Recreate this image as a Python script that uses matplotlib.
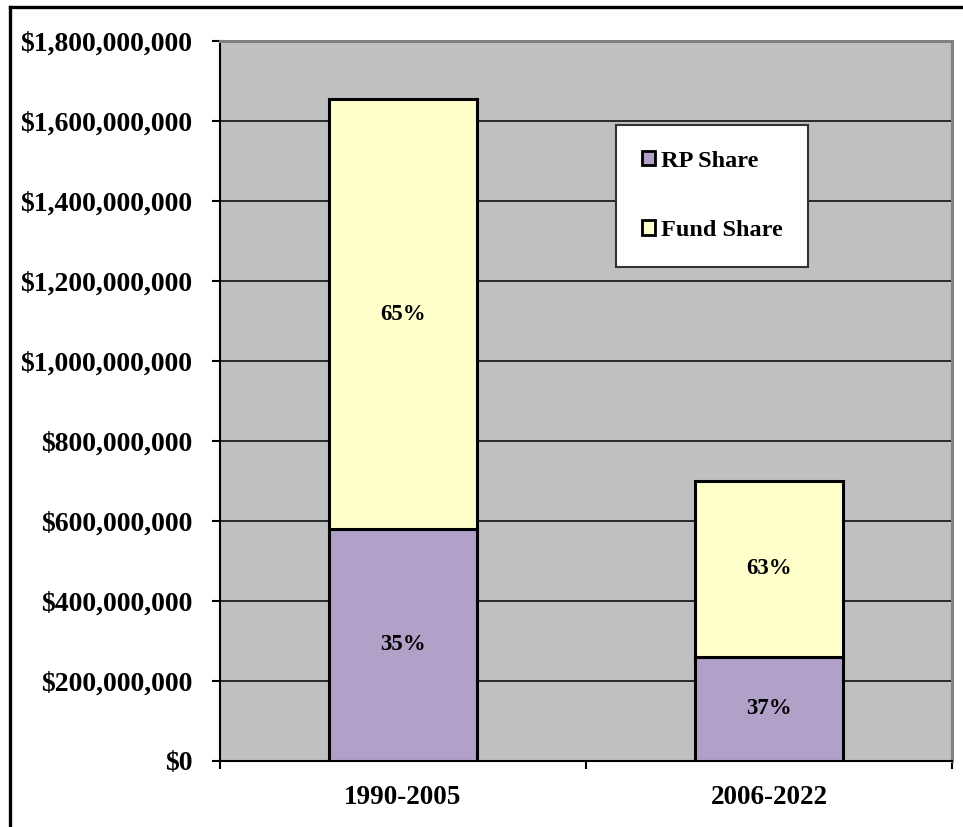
import numpy as np
import matplotlib.pyplot as plt
from matplotlib.lines import Line2D
from matplotlib.ticker import FuncFormatter

# data
periods = ["1990-2005", "2006-2022"]
rp_share = [580e6, 260e6]
fund_share = [1075e6, 440e6]
rp_pct = ["35%", "37%"]
fund_pct = ["65%", "63%"]

plt.rcParams['font.family'] = 'Liberation Serif'
plt.rcParams['font.weight'] = 'bold'

W, H = 963, 827
fig = plt.figure(figsize=(W / 100, H / 100), dpi=100)
ax = fig.add_axes([220 / W, (H - 761) / H, (952 - 220) / W, 720 / H])
ax.set_facecolor('#C0C0C0')

x = np.arange(len(periods))
bw = 0.405
b1 = ax.bar(x, rp_share, bw, color='#B1A0C7', edgecolor='black', linewidth=2.2,
            label='RP Share', zorder=3)
b2 = ax.bar(x, fund_share, bw, bottom=rp_share, color='#FFFFCC', edgecolor='black',
            linewidth=2.2, label='Fund Share', zorder=3)
ax.bar_label(b1, labels=rp_pct, label_type='center', fontsize=16.5, fontweight='bold')
ax.bar_label(b2, labels=fund_pct, label_type='center', fontsize=16.5, fontweight='bold')

ax.set_ylim(0, 1.8e9)
ax.set_xlim(-0.5, 1.5)
ax.set_yticks(np.arange(0, 1.8e9 + 1, 2e8))
ax.yaxis.set_major_formatter(FuncFormatter(lambda v, p: "${:,.0f}".format(v)))
ax.grid(axis='y', color='black', linewidth=1.1, zorder=1)
ax.set_axisbelow(True)

ax.set_xticks([-0.5, 0.5, 1.5])
ax.set_xticklabels([])
ax.set_xticks(x, minor=True)
ax.set_xticklabels(periods, minor=True)
ax.tick_params(axis='x', which='minor', length=0, pad=17, labelsize=19.5)
ax.tick_params(axis='x', which='major', direction='out', length=6, width=1.5)
ax.tick_params(axis='y', direction='out', length=6, width=1.5, pad=14, labelsize=20)
for lab in ax.get_xticklabels(minor=True) + ax.get_yticklabels():
    lab.set_fontweight('bold')

for s in ['top', 'right']:
    ax.spines[s].set_color('#808080')
    ax.spines[s].set_linewidth(2.2)
for s in ['left', 'bottom']:
    ax.spines[s].set_color('black')
    ax.spines[s].set_linewidth(1.5)

leg = ax.legend(loc='upper left', bbox_to_anchor=(616 / W, 1 - 125 / H),
                bbox_transform=fig.transFigure, borderaxespad=0,
                fancybox=False, framealpha=1, edgecolor='#333333',
                prop={'size': 17.5, 'weight': 'bold'},
                handlelength=0.55, handleheight=0.55, handletextpad=0.25,
                borderpad=1.05, labelspacing=2.0)
leg.get_frame().set_linewidth(1.5)
for h in leg.legend_handles:
    h.set_linewidth(2)

# outer chart border (cut at right and bottom)
fig.add_artist(Line2D([10 / W, 10 / W], [0, 1 - 7 / H], color='black', linewidth=2.4,
                      transform=fig.transFigure))
fig.add_artist(Line2D([10 / W, 1], [1 - 7 / H, 1 - 7 / H], color='black', linewidth=2.4,
                      transform=fig.transFigure))

fig.savefig('out.png', dpi=100)
